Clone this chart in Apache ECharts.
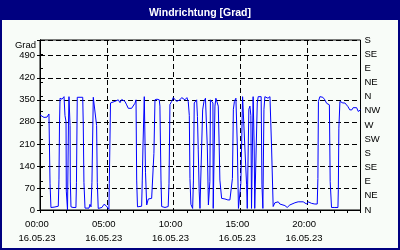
<!DOCTYPE html>
<html><head><meta charset="utf-8">
<script src="https://cdn.jsdelivr.net/npm/echarts@6/dist/echarts.min.js"></script>
<style>html,body{margin:0;padding:0;background:#000080}#c{width:400px;height:250px}</style>
</head><body><div id="c"></div>
<script>
// time of reading (hours since 16.05.23 00:00)
const hours = [
 0,0.15,0.30,0.52,0.67,0.75,0.82,1.05,1.12,1.37,1.42,1.46,1.50,1.57,1.65,1.72,1.80,1.87,1.95,1.97,2.06,2.13,2.17,2.25,2.27,2.32,2.47,2.54,2.69,2.73,2.79,3.20,3.24,3.29,3.37,3.67,3.74,3.82,3.89,3.99,4.12,4.24,4.29,4.36,4.64,4.79,4.94,5.04,5.16,5.19,5.28,
 5.37,5.61,5.74,5.86,5.99,6.12,6.23,6.36,6.49,6.61,6.74,6.86,6.98,7.11,7.19,7.24,7.30,7.41,7.61,7.66,7.71,7.81,7.90,7.99,8.11,8.23,8.36,8.48,8.53,8.61,8.76,8.93,8.98,9.06,9.11,9.36,9.60,9.66,9.73,9.86,9.98,
 10.10,10.23,10.33,10.48,10.61,10.73,10.85,11.00,11.10,11.18,11.23,11.30,11.38,11.43,11.49,11.55,11.64,11.73,11.79,11.85,11.92,11.98,12.09,12.18,12.28,12.39,12.49,12.53,12.61,12.69,12.72,12.76,12.87,12.95,12.97,13.04,13.10,13.17,13.27,13.35,13.42,13.47,13.60,
 13.70,13.85,13.97,14.07,14.22,14.35,14.41,14.48,14.56,14.67,14.72,14.78,14.86,14.97,15.04,15.17,15.27,15.34,15.47,15.52,15.59,15.64,15.72,15.79,15.84,15.90,15.96,16.04,16.08,16.21,16.27,16.34,16.56,16.62,16.69,16.77,16.84,17.07,17.22,17.34,17.46,
 17.59,17.84,17.96,18.09,18.34,18.51,18.71,18.84,19.09,19.33,19.46,19.71,19.96,20.08,20.34,20.46,20.58,20.76,20.81,20.85,20.96,21.18,21.33,21.46,21.58,21.67,21.73,21.83,22.08,22.31,22.34,22.38,22.46,22.55,22.68,22.83,23.05,23.20,23.35,23.45,23.58,23.71,23.83,24.00
];
// wind direction in degrees
const degrees = [
 302,298,294,295,305,85,8,9,12,12,98,270,355,360,352,358,360,300,280,60,0,270,360,268,89,10,8,14,8,88,358,358,270,88,6,6,18,10,88,358,360,268,88,5,8,18,14,8,2,85,340,
 339,345,339,350,341,351,355,345,334,323,329,323,329,339,350,95,10,10,12,95,200,360,120,16,35,32,37,32,180,350,352,350,330,95,11,8,11,85,335,345,357,
 355,345,340,350,357,360,350,357,345,300,100,18,22,5,95,340,345,350,297,191,60,5,8,318,345,355,360,200,16,20,90,350,355,340,5,10,330,355,360,330,200,95,37,
 33,35,38,32,32,35,100,320,345,355,355,200,5,3,85,360,360,200,80,5,5,320,330,300,5,8,360,200,5,10,340,360,360,80,5,320,360,355,360,200,11,
 23,26,19,16,14,8,16,19,23,26,21,26,19,26,21,16,19,19,100,345,360,358,350,339,345,334,90,8,8,8,65,260,345,348,340,340,329,318,318,325,331,325,313,318
];
const dateLabel = '16.05.23';
const compassLabels = ['N','NE','E','SE','S','SW','W','NW','N','NE','E','SE','S'];
const titleText = 'Windrichtung [Grad]';
const yName = 'Grad';

const font = '"Liberation Sans", Arial, sans-serif';
const fs = 9.5;
const data = [];
for (let i = 0; i < Math.min(hours.length, degrees.length); i++) data.push([hours[i], degrees[i]]);

const chart = echarts.init(document.getElementById('c'), null, {renderer: 'canvas'});
chart.setOption({
  animation: false,
  backgroundColor: '#000080',
  graphic: [{type: 'rect', z: -10, shape: {x: 2, y: 20, width: 396, height: 228}, style: {fill: '#f8fcf8'}}],
  title: {text: titleText, left: 'center', top: 3,
    textStyle: {color: '#fff', fontWeight: 'bold', fontSize: 10.5, fontFamily: font}},
  grid: {left: 40, right: 39.5, top: 40, bottom: 40, show: true, borderColor: '#000', borderWidth: 1, backgroundColor: 'transparent'},
  xAxis: [
    {type: 'value', min: 0, max: 24, interval: 5, position: 'bottom',
      axisLine: {lineStyle: {color: '#000'}}, axisTick: {show: false},
      splitLine: {show: true, lineStyle: {color: '#000', type: [5, 3]}},
      axisLabel: {color: '#000', fontSize: fs, fontFamily: font, margin: 7, lineHeight: 14, padding: [0, 6, 0, 0],
        showMaxLabel: false,
        formatter: v => (v % 5 === 0 && v < 24) ? String(v).padStart(2, '0') + ':00\n' + dateLabel : ''}},
    {type: 'value', min: 0, max: 24, interval: 1, position: 'bottom',
      axisLine: {show: false}, axisTick: {show: true, length: 3, lineStyle: {color: '#000'}},
      splitLine: {show: false}, axisLabel: {show: false}}
  ],
  yAxis: [
    {type: 'value', min: 0, max: 540, interval: 70, position: 'left',
      name: yName, nameLocation: 'end', nameGap: -5,
      nameTextStyle: {color: '#000', fontSize: fs, fontFamily: font, align: 'right', verticalAlign: 'middle', padding: [0, 4, 0, 0]},
      axisLine: {show: true, lineStyle: {color: '#000'}}, axisTick: {show: true, length: 3, lineStyle: {color: '#000'}},
      splitLine: {show: true, lineStyle: {color: '#000', type: [5, 3]}},
      axisLabel: {color: '#000', fontSize: fs, fontFamily: font, margin: 5, formatter: v => v > 490 ? '' : String(v)}},
    {type: 'value', min: 0, max: 540, interval: 45, position: 'right',
      axisLine: {show: true, lineStyle: {color: '#000'}}, axisTick: {show: true, length: 3, lineStyle: {color: '#000'}},
      splitLine: {show: false},
      axisLabel: {color: '#000', fontSize: fs, fontFamily: font, margin: 4, formatter: v => compassLabels[Math.round(v / 45)] || ''}}
  ],
  series: [{type: 'line', xAxisIndex: 0, yAxisIndex: 0, data: data, showSymbol: false, symbol: 'none',
    lineStyle: {color: '#0000ff', width: 1}, clip: true}]
});
</script></body></html>
